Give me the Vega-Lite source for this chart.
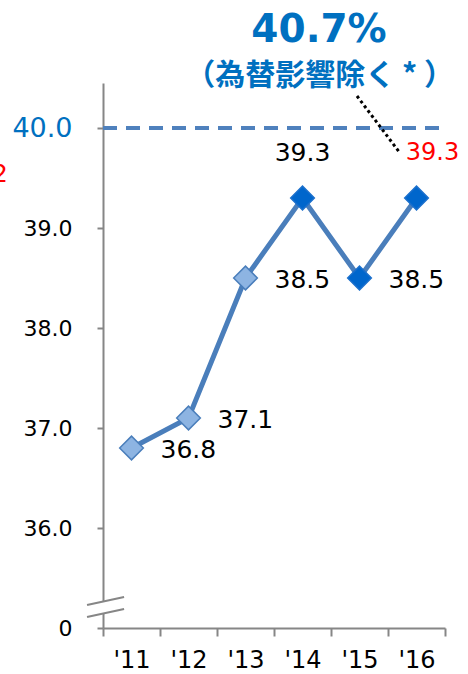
{
  "$schema": "https://vega.github.io/schema/vega-lite/v6.json",
  "autosize": {"type": "none"},
  "padding": {"left": 103, "top": 83, "right": 23, "bottom": 46},
  "width": 342,
  "height": 545,
  "background": "white",
  "config": {"view": {"stroke": null}, "font": "DejaVu Sans"},
  "datasets": {
    "main": [
      {"year": 2011, "value": 36.8},
      {"year": 2012, "value": 37.1},
      {"year": 2013, "value": 38.5},
      {"year": 2014, "value": 39.3},
      {"year": 2015, "value": 38.5},
      {"year": 2016, "value": 39.3}
    ]
  },
  "encoding": {
    "x": {
      "field": "year", "type": "quantitative",
      "scale": {"domain": [2010.5, 2016.5], "nice": false, "zero": false},
      "axis": {
        "title": null, "grid": false,
        "values": [2010.5, 2011, 2011.5, 2012, 2012.5, 2013, 2013.5, 2014, 2014.5, 2015, 2015.5, 2016, 2016.5],
        "labelExpr": "datum.value % 1 == 0 ? \"'\" + (datum.value - 2000) : ''",
        "tickOpacity": {"condition": {"test": "datum.value % 1 == 0", "value": 0}, "value": 1},
        "tickSize": 8, "tickWidth": 2, "tickColor": "#868686",
        "domainColor": "#868686", "domainWidth": 2,
        "labelFontSize": 24, "labelColor": "#000000", "labelPadding": 12,
        "labelOverlap": false, "labelBound": false, "labelFlush": false
      }
    },
    "y": {
      "field": "value", "type": "quantitative",
      "scale": {"domain": [35, 40.45], "nice": false, "zero": false},
      "axis": {
        "title": null, "grid": false,
        "values": [35, 36, 37, 38, 39, 40],
        "labelExpr": "datum.value == 35 ? '0' : format(datum.value, '.1f')",
        "labelColor": {"condition": {"test": "datum.value == 40", "value": "#0070C0"}, "value": "#000000"},
        "labelFontSize": {"condition": {"test": "datum.value == 40", "value": 27}, "value": 22},
        "tickSize": 6, "tickWidth": 2, "tickColor": "#868686",
        "domainColor": "#868686", "domainWidth": 2,
        "labelPadding": 25, "labelOverlap": false, "labelBound": false, "labelFlush": false
      }
    }
  },
  "layer": [
    {
      "data": {"values": [{"year": 2010.5, "year2": 2016.5, "value": 40}]},
      "mark": {"type": "rule", "color": "#4F81BD", "strokeWidth": 4, "strokeDash": [14, 9]},
      "encoding": {"x2": {"field": "year2"}}
    },
    {
      "data": {"name": "main"},
      "mark": {"type": "line", "color": "#4A7EBB", "strokeWidth": 5}
    },
    {
      "data": {"name": "main"},
      "mark": {"type": "point", "shape": "diamond", "size": 560, "filled": true, "opacity": 1, "strokeWidth": 1.5},
      "encoding": {
        "fill": {"condition": {"test": "datum.year >= 2014", "value": "#0066CC"}, "value": "#8DB4E2"},
        "stroke": {"condition": {"test": "datum.year >= 2014", "value": "#1A6FCC"}, "value": "#4A7EBB"}
      }
    },
    {
      "data": {"name": "main"},
      "transform": [{"filter": "datum.year != 2014 && datum.year != 2016"}],
      "mark": {"type": "text", "align": "left", "baseline": "middle", "dx": 29, "dy": 2, "fontSize": 25, "color": "#000000"},
      "encoding": {"text": {"field": "value", "format": ".1f"}}
    },
    {
      "data": {"name": "main"},
      "transform": [{"filter": "datum.year == 2014"}],
      "mark": {"type": "text", "align": "center", "baseline": "middle", "dy": -45, "fontSize": 25, "color": "#000000"},
      "encoding": {"text": {"field": "value", "format": ".1f"}}
    },
    {
      "data": {"name": "main"},
      "transform": [{"filter": "datum.year == 2016"}],
      "mark": {"type": "text", "align": "center", "baseline": "middle", "dx": 16, "dy": -45, "fontSize": 24, "color": "#FF0000"},
      "encoding": {"text": {"field": "value", "format": ".1f"}}
    },
    {
      "data": {"values": [{"year": 2014.956, "value": 40.32, "year2": 2015.71, "value2": 39.75}]},
      "mark": {"type": "rule", "color": "#000000", "strokeWidth": 3, "strokeDash": [3, 3]},
      "encoding": {"x2": {"field": "year2"}, "y2": {"field": "value2"}}
    },
    {
      "data": {"values": [{"year": 2014.29, "value": 40.98, "label": "40.7%"}]},
      "mark": {"type": "text", "align": "center", "baseline": "middle", "fontSize": 39, "fontWeight": "bold", "color": "#0070C0"},
      "encoding": {"text": {"field": "label"}}
    },
    {
      "data": {"values": [{"year": 2014.3, "value": 40.52, "label": "（為替影響除く * ）"}]},
      "mark": {"type": "text", "align": "center", "baseline": "middle", "fontSize": 30, "fontWeight": "bold", "font": "Noto Sans CJK JP", "color": "#0070C0"},
      "encoding": {"text": {"field": "label"}}
    },
    {
      "data": {"values": [{"year": 2008.83, "value": 39.54, "label": "2"}]},
      "mark": {"type": "text", "align": "right", "baseline": "middle", "fontSize": 25, "color": "#FF0000"},
      "encoding": {"text": {"field": "label"}}
    },
    {
      "data": {"values": [{"year": 2010.5, "value": 35.15, "year2": 2010.5, "value2": 35.26}]},
      "mark": {"type": "rule", "color": "#FFFFFF", "strokeWidth": 5},
      "encoding": {"x2": {"field": "year2"}, "y2": {"field": "value2"}}
    },
    {
      "data": {"values": [
        {"year": 2010.22, "value": 35.23, "year2": 2010.87, "value2": 35.31},
        {"year": 2010.22, "value": 35.11, "year2": 2010.87, "value2": 35.19}
      ]},
      "mark": {"type": "rule", "color": "#868686", "strokeWidth": 2},
      "encoding": {"x2": {"field": "year2"}, "y2": {"field": "value2"}}
    }
  ]
}
